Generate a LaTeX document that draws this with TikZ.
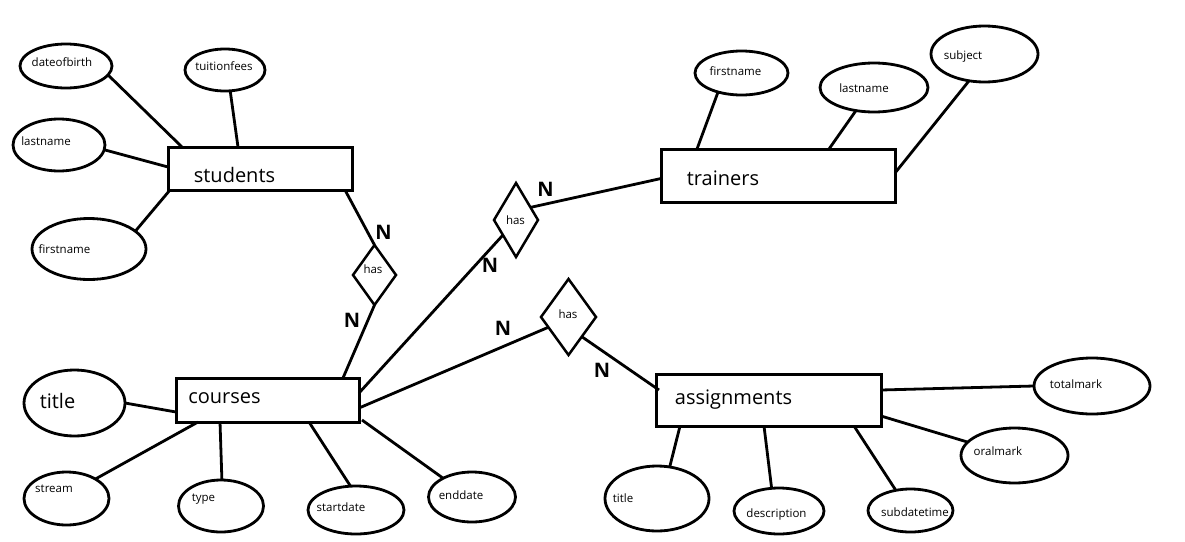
\documentclass[tikz,border=0pt]{standalone}
\usepackage{fontspec}
\setmainfont{Open Sans}
\usetikzlibrary{shapes.geometric}
\begin{document}
\begin{tikzpicture}[x=1pt,y=-1pt,line width=2.8pt,
  attr/.style={ellipse,draw,inner sep=0pt,outer sep=0pt,line width=2.8pt},
  ent/.style={rectangle,draw,inner sep=0pt,outer sep=0pt,line width=3pt},
  rel/.style={diamond,draw,inner sep=0pt,outer sep=0pt,line width=2.5pt},
  lbl/.style={font=\fontsize{11.5}{13}\selectfont,inner sep=0pt},
  elbl/.style={font=\fontsize{20}{24}\selectfont,inner sep=0pt},
  card/.style={font=\fontsize{20}{24}\selectfont\bfseries,inner sep=0pt},
  link/.style={draw,line width=2.8pt}]
\useasboundingbox (0,0) rectangle (1185,541);
\fill[white] (0,0) rectangle (1185,541);

% ---------- entities ----------
\node[ent,minimum width=184pt,minimum height=43pt] (stu) at (260,168.5) {};
\node[elbl] (stut) at (234.5,175) {students};
\node[ent,minimum width=234pt,minimum height=53pt] (tr) at (778,175.5) {};
\node[elbl] (trt) at (723,178) {trainers};
\node[ent,minimum width=183pt,minimum height=44pt] (co) at (267.5,400) {};
\node[elbl] (cot) at (224.5,398) {courses};
\node[ent,minimum width=225pt,minimum height=52pt] (as) at (768.5,400) {};
\node[elbl] (ast) at (733.5,400) {assignments};

% ---------- relationships ----------
\node[rel,minimum width=43pt,minimum height=60pt] (h1) at (374.5,275) {};
\node[lbl] (h1t) at (373,269) {has};
\node[rel,minimum width=44pt,minimum height=74pt] (h2) at (516,220) {};
\node[lbl] (h2t) at (515.5,220) {has};
\node[rel,minimum width=55pt,minimum height=76pt] (h3) at (568.5,317) {};
\node[lbl] (h3t) at (568,314) {has};

% ---------- students attributes ----------
\node[attr,minimum width=92pt,minimum height=44pt] (dob) at (66,66) {};
\node[lbl] (dobt) at (62,62) {dateofbirth};
\node[attr,minimum width=80pt,minimum height=42pt] (tf) at (225,70) {};
\node[lbl] (tft) at (224,66.5) {tuitionfees};
\node[attr,minimum width=92pt,minimum height=52pt] (sln) at (59,145) {};
\node[lbl] (slnt) at (46,141.5) {lastname};
\node[attr,minimum width=114pt,minimum height=61pt] (sfn) at (89,249) {};
\node[lbl] (sfnt) at (64.5,249.5) {firstname};

% ---------- trainers attributes ----------
\node[attr,minimum width=93pt,minimum height=44pt] (tfn) at (741.5,73) {};
\node[lbl] (tfnt) at (735.5,71) {firstname};
\node[attr,minimum width=108pt,minimum height=49pt] (tln) at (874,87.5) {};
\node[lbl] (tlnt) at (864,88) {lastname};
\node[attr,minimum width=107pt,minimum height=56pt] (sub) at (984.5,54) {};
\node[lbl] (subt) at (963,57) {subject};

% ---------- courses attributes ----------
\node[attr,minimum width=101pt,minimum height=66pt] (cti) at (74.5,403) {};
\node[elbl] (ctit) at (57.5,401) {title};
\node[attr,minimum width=85pt,minimum height=53pt] (str) at (66.5,498.5) {};
\node[lbl] (strt) at (54,489) {stream};
\node[attr,minimum width=85pt,minimum height=52pt] (typ) at (221,506) {};
\node[lbl] (typt) at (203.5,499) {type};
\node[attr,minimum width=96pt,minimum height=48pt] (sd) at (356,510) {};
\node[lbl] (sdt) at (341,507) {startdate};
\node[attr,minimum width=87pt,minimum height=50pt] (ed) at (472,497) {};
\node[lbl] (edt) at (461,495) {enddate};

% ---------- assignments attributes ----------
\node[attr,minimum width=116pt,minimum height=56pt] (tm) at (1092,386) {};
\node[lbl] (tmt) at (1076,384) {totalmark};
\node[attr,minimum width=107pt,minimum height=55pt] (om) at (1014.5,455.5) {};
\node[lbl] (omt) at (998,451) {oralmark};
\node[attr,minimum width=104pt,minimum height=65pt] (ati) at (657,498.5) {};
\node[lbl] (atit) at (623,498) {title};
\node[attr,minimum width=90pt,minimum height=46pt] (des) at (779,511) {};
\node[lbl] (dest) at (776.5,515) {description};
\node[attr,minimum width=85pt,minimum height=43pt] (sdt2) at (910.5,510.5) {};
\node[lbl] (sdt2t) at (915,512) {subdatetime};

% ---------- cardinalities ----------
\node[card] (n1) at (383.5,232) {N};
\node[card] (n2) at (352,320) {N};
\node[card] (n3) at (545.5,189.5) {N};
\node[card] (n4) at (490,265.5) {N};
\node[card] (n5) at (503,328.5) {N};
\node[card] (n6) at (602,370) {N};

% ---------- connectors ----------
\path[link] (dob.-12) -- ([xshift=14pt]stu.north west);
\path[link] (tf.-76) -- ([xshift=70pt]stu.north west);
\path[link] (sln.-6) -- ([yshift=1.5pt]stu.west);
\path[link] (sfn.21) -- ([xshift=2pt]stu.south west);

\path[link] ([xshift=-7pt]stu.south east) -- (h1.north);
\path[link] (h1.south) -- ([xshift=-16pt]co.north east);

\path[link] (tfn.-141) -- ([xshift=36pt]tr.north west);
\path[link] (tln.-128) -- ([xshift=168pt]tr.north west);
\path[link] (sub.-120) -- ([yshift=2.5pt]tr.east);

\path[link] (h2.41) -- ([yshift=-3pt]tr.west);
\path[link] (h2.-131) -- ([yshift=7pt]co.east);
\path[link] (h3.-153) -- ([yshift=-8pt]co.east);
\path[link] (h3.-56) -- ([yshift=10pt,xshift=3pt]as.west);

\path[link] (cti.0) -- ([yshift=-12pt]co.west);
\path[link] (str.34) -- ([xshift=22pt]co.south west);
\path[link] (typ.88) -- ([xshift=44pt]co.south west);
\path[link] (sd.103) -- ([xshift=133pt]co.south west);
\path[link] (ed.147) -- ([xshift=3pt,yshift=2pt]co.south east);

\path[link] (tm.180) -- ([yshift=10pt]as.east);
\path[link] (om.164) -- ([yshift=-16pt]as.east);
\path[link] (ati.68) -- ([xshift=24pt]as.south west);
\path[link] (des.108) -- ([xshift=108pt]as.south west);
\path[link] (sdt2.126) -- ([xshift=198pt]as.south west);
\end{tikzpicture}
\end{document}
